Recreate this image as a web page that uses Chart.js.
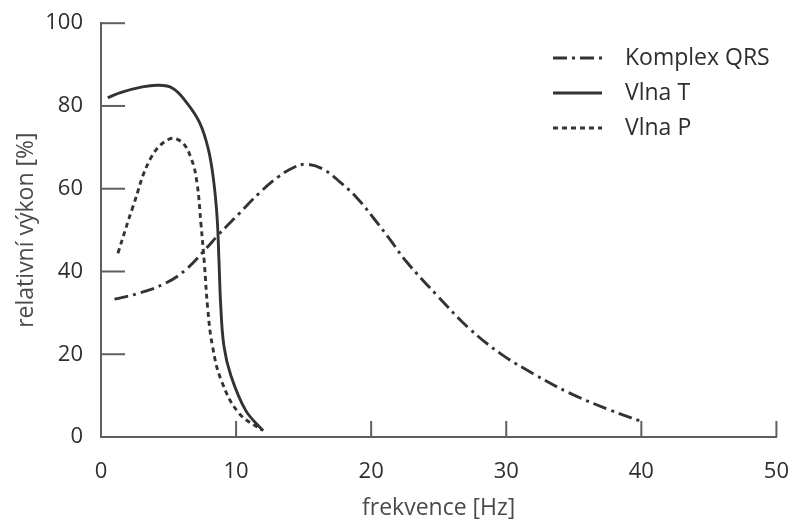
<!DOCTYPE html>
<html>
<head>
<meta charset="utf-8">
<script src="https://cdn.jsdelivr.net/npm/chart.js@4.4.0/dist/chart.umd.min.js"></script>
<style>
  html, body { margin: 0; padding: 0; background: #fff; }
  #wrap { width: 803px; height: 522px; }
</style>
</head>
<body>
<div id="wrap"><canvas id="graf"></canvas></div>
<script>
// === DATA ===
const xTicks = [0, 10, 20, 30, 40, 50];
const yTicks = [0, 20, 40, 60, 80, 100];

const qrsX = [1, 2.85, 4.8, 6.3, 7.8, 8.7, 10.2, 11.7, 13.1, 14.3, 15.2, 16.4, 17.7, 19, 20.2, 21.4, 22.6, 25, 27.2, 29.6, 32, 34.7, 37.7, 40];
const qrsY = [33.3, 34.8, 37.2, 40.5, 45.6, 48.9, 53.9, 58.9, 62.8, 65.2, 65.9, 64.8, 61.6, 57.6, 52.8, 47.7, 42.4, 33.8, 26.4, 20.1, 15.3, 10.6, 6.5, 3.8];

const tX = [0.5, 1.5, 2.9, 4.2, 5.3, 6.3, 7.3, 7.95, 8.35, 8.6, 8.74, 8.86, 9.1, 9.6, 10.7, 12];
const tY = [82, 83.3, 84.5, 85, 84.3, 81, 76, 69.5, 61.6, 52.8, 42, 32, 22, 15, 6.5, 1.5];

const pX = [1.25, 2.35, 3.7, 5.06, 6.0, 6.7, 7.1, 7.4, 7.65, 7.9, 8.25, 8.9, 10.2, 11.9];
const pY = [44.4, 55.5, 67.5, 72, 71.2, 67.1, 61.6, 51.5, 42, 31, 22, 13.7, 5.8, 1.7];

const nazvy = ["Komplex QRS", "Vlna T", "Vlna P"];

const barvaCary = "#333";
const barvaOsy = "#5f5f5f";
const barvaTextu = "#2e2e2e";
const pismo = "'Open Sans', sans-serif";

function body(xs, ys) {
  return xs.map((x, i) => ({ x: x, y: ys[i] }));
}

// === TICKS INSIDE THE AXES ===
const vnitrniTicky = {
  id: "vnitrniTicky",
  afterDraw(chart) {
    const ctx = chart.ctx;
    const x = chart.scales.x, y = chart.scales.y;
    ctx.save();
    ctx.strokeStyle = barvaOsy;
    ctx.lineWidth = 2;
    yTicks.forEach(v => {
      const py = y.getPixelForValue(v);
      ctx.beginPath();
      ctx.moveTo(x.left, py);
      ctx.lineTo(x.left + 24, py);
      ctx.stroke();
    });
    xTicks.forEach(v => {
      const px = x.getPixelForValue(v);
      ctx.beginPath();
      ctx.moveTo(px, y.bottom);
      ctx.lineTo(px, y.bottom - 16);
      ctx.stroke();
    });
    ctx.restore();
  }
};

// === LEGEND ===
const legenda = {
  id: "legenda",
  afterDraw(chart) {
    const ctx = chart.ctx;
    ctx.save();
    ctx.font = "23px " + pismo;
    ctx.textBaseline = "middle";
    chart.data.datasets.forEach((ds, i) => {
      const yy = 58 + i * 35;
      ctx.strokeStyle = ds.borderColor;
      ctx.lineWidth = ds.borderWidth;
      ctx.setLineDash(ds.borderDash || []);
      ctx.beginPath();
      ctx.moveTo(553, yy);
      ctx.lineTo(602, yy);
      ctx.stroke();
      ctx.setLineDash([]);
      ctx.fillStyle = barvaTextu;
      ctx.fillText(ds.label, 625, yy);
    });
    ctx.restore();
  }
};

// === CHART ===
new Chart(document.getElementById("graf"), {
  type: "line",
  data: {
    datasets: [
      { label: nazvy[0], data: body(qrsX, qrsY), borderDash: [14, 5, 3, 5] },
      { label: nazvy[1], data: body(tX, tY), borderDash: [] },
      { label: nazvy[2], data: body(pX, pY), borderDash: [5, 4] }
    ].map(d => Object.assign(d, {
      borderColor: barvaCary,
      borderWidth: 2.9,
      pointRadius: 0,
      fill: false,
      tension: 0.4
    }))
  },
  options: {
    responsive: true,
    maintainAspectRatio: false,
    animation: false,
    layout: { padding: { top: 20, right: 20, left: 0, bottom: 0 } },
    plugins: { legend: { display: false }, tooltip: { enabled: false } },
    scales: {
      x: {
        type: "linear",
        min: 0, max: 50,
        afterBuildTicks: s => { s.ticks = xTicks.map(v => ({ value: v })); },
        afterFit: s => { s.height = 85; },
        grid: { display: false },
        border: { display: true, color: barvaOsy, width: 2 },
        ticks: { color: barvaTextu, font: { size: 22, family: pismo }, padding: 14, maxRotation: 0 },
        title: { display: true, text: "frekvence [Hz]", color: "#4a4a4a", font: { size: 23, family: pismo }, padding: { top: 4, bottom: 0 } }
      },
      y: {
        min: 0, max: 100,
        afterBuildTicks: s => { s.ticks = yTicks.map(v => ({ value: v })); },
        afterFit: s => { s.width = 101; },
        grid: { display: false },
        border: { display: true, color: barvaOsy, width: 2 },
        ticks: { color: barvaTextu, font: { size: 22, family: pismo }, padding: 10 },
        title: { display: true, text: "relativní výkon [%]", color: "#4a4a4a", font: { size: 23, family: pismo }, padding: { top: 13, bottom: 4 } }
      }
    }
  },
  plugins: [vnitrniTicky, legenda]
});
</script>
</body>
</html>
